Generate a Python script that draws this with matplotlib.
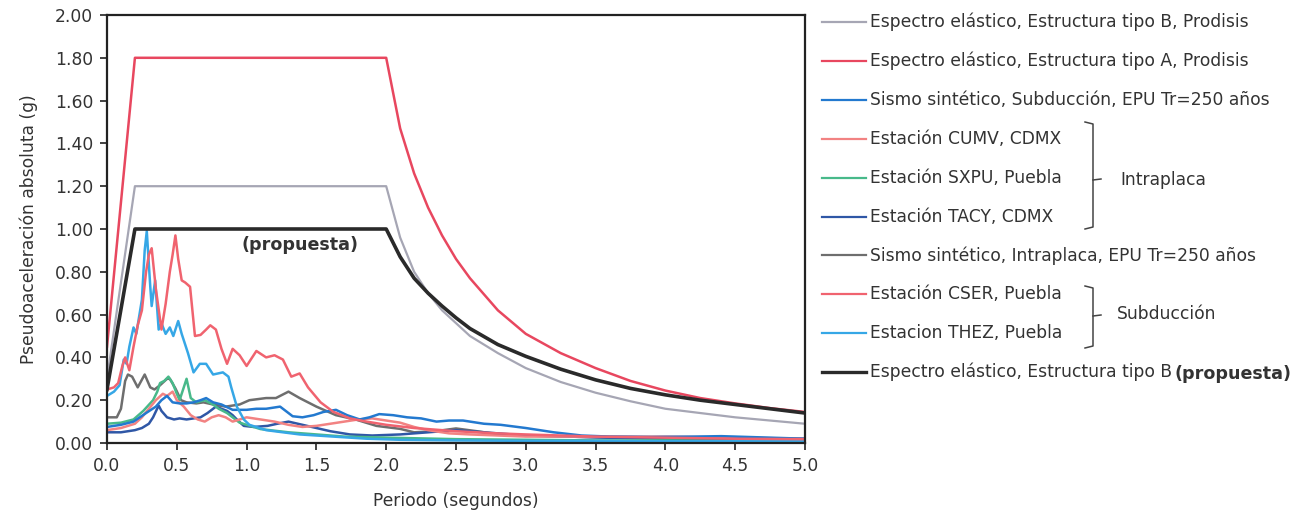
import matplotlib
matplotlib.use("Agg")
import matplotlib.pyplot as plt
from matplotlib.lines import Line2D

plt.rcParams['font.family'] = ['DejaVu Sans']

# ---------------- data ----------------
# Design spectra
T_specA = [0.0, 0.2, 2.0, 2.1, 2.2, 2.3, 2.4, 2.5, 2.6, 2.8, 3.0, 3.25, 3.5, 3.75, 4.0, 4.25, 4.5, 4.75, 5.0]
Sa_specA = [0.45, 1.80, 1.80, 1.47, 1.26, 1.10, 0.97, 0.86, 0.77, 0.62, 0.51, 0.42, 0.35, 0.29, 0.245, 0.21, 0.185, 0.163, 0.145]

T_specB = [0.0, 0.2, 2.0, 2.1, 2.2, 2.3, 2.4, 2.5, 2.6, 2.8, 3.0, 3.25, 3.5, 3.75, 4.0, 4.25, 4.5, 4.75, 5.0]
Sa_specB = [0.30, 1.20, 1.20, 0.96, 0.80, 0.70, 0.62, 0.56, 0.50, 0.42, 0.35, 0.285, 0.235, 0.195, 0.16, 0.14, 0.12, 0.105, 0.09]

T_prop = [0.0, 0.2, 2.0, 2.1, 2.2, 2.3, 2.4, 2.5, 2.6, 2.8, 3.0, 3.25, 3.5, 3.75, 4.0, 4.25, 4.5, 4.75, 5.0]
Sa_prop = [0.25, 1.00, 1.00, 0.87, 0.77, 0.70, 0.64, 0.585, 0.535, 0.46, 0.405, 0.345, 0.295, 0.255, 0.225, 0.20, 0.18, 0.16, 0.14]

# Records
T_synSub = [0, 0.1, 0.19, 0.28, 0.35, 0.39, 0.43, 0.47, 0.52, 0.57, 0.62, 0.67, 0.71, 0.76, 0.82, 0.9, 1.0, 1.07,
            1.14, 1.24, 1.33, 1.40, 1.48, 1.55, 1.64, 1.72, 1.81, 1.88, 1.95, 2.05, 2.15, 2.25, 2.36, 2.45, 2.55,
            2.7, 2.82, 3.0, 3.2, 3.4, 3.6, 3.9, 4.2, 4.4, 4.6, 4.8, 5.0]
Sa_synSub = [0.075, 0.085, 0.10, 0.14, 0.17, 0.20, 0.22, 0.19, 0.185, 0.185, 0.19, 0.20, 0.21, 0.19, 0.18, 0.155,
             0.155, 0.16, 0.16, 0.17, 0.125, 0.12, 0.13, 0.145, 0.155, 0.13, 0.11, 0.12, 0.135, 0.13, 0.12, 0.115,
             0.10, 0.105, 0.105, 0.09, 0.085, 0.07, 0.05, 0.035, 0.03, 0.028, 0.03, 0.032, 0.028, 0.024, 0.02]

T_cumv = [0, 0.1, 0.2, 0.25, 0.3, 0.35, 0.4, 0.43, 0.47, 0.5, 0.55, 0.6, 0.65, 0.7, 0.75, 0.8, 0.85, 0.9, 1.0,
          1.1, 1.2, 1.3, 1.4, 1.5, 1.6, 1.7, 1.8, 1.9, 2.0, 2.1, 2.2, 2.3, 2.45, 2.6, 2.8, 3.0, 3.5, 4.0, 4.5, 5.0]
Sa_cumv = [0.06, 0.07, 0.09, 0.12, 0.16, 0.20, 0.23, 0.22, 0.24, 0.20, 0.17, 0.13, 0.11, 0.10, 0.12, 0.13, 0.12,
           0.10, 0.12, 0.11, 0.10, 0.085, 0.075, 0.08, 0.09, 0.10, 0.11, 0.115, 0.105, 0.095, 0.075, 0.06, 0.045,
           0.04, 0.035, 0.03, 0.03, 0.03, 0.025, 0.02]

T_sxpu = [0, 0.1, 0.19, 0.26, 0.33, 0.36, 0.38, 0.41, 0.44, 0.47, 0.5, 0.52, 0.55, 0.57, 0.6, 0.64, 0.7, 0.76,
          0.8, 0.86, 0.95, 1.1, 1.3, 1.5, 1.7, 2.0, 2.5, 3.0, 3.5, 4.0, 4.5, 5.0]
Sa_sxpu = [0.09, 0.095, 0.11, 0.15, 0.20, 0.24, 0.28, 0.29, 0.31, 0.28, 0.23, 0.20, 0.26, 0.30, 0.21, 0.19, 0.20,
           0.18, 0.16, 0.14, 0.095, 0.065, 0.05, 0.04, 0.03, 0.025, 0.018, 0.015, 0.012, 0.012, 0.01, 0.01]

T_tacy = [0, 0.1, 0.2, 0.25, 0.3, 0.33, 0.37, 0.39, 0.43, 0.48, 0.52, 0.57, 0.62, 0.67, 0.72, 0.78, 0.82, 0.86,
          0.9, 0.93, 0.98, 1.05, 1.15, 1.22, 1.3, 1.4, 1.5, 1.6, 1.74, 1.9, 2.1, 2.3, 2.5, 2.7, 3.0, 3.3, 3.6, 4.0,
          4.5, 5.0]
Sa_tacy = [0.05, 0.05, 0.06, 0.07, 0.09, 0.12, 0.175, 0.15, 0.12, 0.11, 0.115, 0.11, 0.115, 0.12, 0.14, 0.17,
           0.16, 0.15, 0.13, 0.11, 0.08, 0.075, 0.08, 0.09, 0.10, 0.085, 0.07, 0.055, 0.04, 0.035, 0.04, 0.05,
           0.06, 0.05, 0.035, 0.03, 0.025, 0.022, 0.02, 0.02]

T_synIntra = [0, 0.07, 0.1, 0.13, 0.15, 0.18, 0.22, 0.27, 0.31, 0.34, 0.38, 0.43, 0.45, 0.49, 0.53, 0.57, 0.64,
              0.69, 0.76, 0.85, 0.95, 1.02, 1.14, 1.21, 1.3, 1.38, 1.5, 1.64, 1.78, 1.93, 2.1, 2.2, 2.35, 2.5,
              2.65, 2.81, 3.0, 3.3, 3.6, 4.0, 4.5, 5.0]
Sa_synIntra = [0.12, 0.12, 0.16, 0.29, 0.32, 0.31, 0.26, 0.32, 0.26, 0.25, 0.27, 0.30, 0.30, 0.255, 0.20, 0.19,
               0.185, 0.19, 0.18, 0.17, 0.18, 0.20, 0.21, 0.21, 0.24, 0.21, 0.17, 0.13, 0.11, 0.08, 0.066, 0.05,
               0.055, 0.068, 0.055, 0.04, 0.035, 0.03, 0.025, 0.02, 0.018, 0.015]

T_cser = [0, 0.05, 0.08, 0.11, 0.13, 0.16, 0.19, 0.22, 0.25, 0.28, 0.30, 0.32, 0.35, 0.39, 0.42, 0.45, 0.47,
          0.49, 0.51, 0.535, 0.56, 0.595, 0.63, 0.67, 0.71, 0.74, 0.78, 0.82, 0.86, 0.9, 0.95, 1.0, 1.07, 1.14,
          1.2, 1.26, 1.32, 1.38, 1.44, 1.53, 1.62, 1.74, 1.86, 2.0, 2.2, 2.5, 2.8, 3.0, 3.5, 4.0, 4.5, 5.0]
Sa_cser = [0.25, 0.26, 0.28, 0.36, 0.40, 0.34, 0.45, 0.55, 0.62, 0.80, 0.88, 0.91, 0.72, 0.53, 0.65, 0.80, 0.88,
           0.97, 0.86, 0.76, 0.75, 0.73, 0.50, 0.505, 0.53, 0.55, 0.53, 0.44, 0.37, 0.44, 0.41, 0.36, 0.43, 0.40,
           0.41, 0.39, 0.31, 0.325, 0.26, 0.19, 0.146, 0.115, 0.10, 0.085, 0.07, 0.055, 0.045, 0.04, 0.03, 0.025,
           0.02, 0.018]

T_thez = [0, 0.05, 0.09, 0.12, 0.14, 0.16, 0.19, 0.21, 0.25, 0.27, 0.285, 0.31, 0.32, 0.345, 0.37, 0.39, 0.42,
          0.45, 0.475, 0.51, 0.535, 0.58, 0.62, 0.665, 0.71, 0.76, 0.83, 0.87, 0.89, 0.93, 0.98, 1.02, 1.14, 1.38,
          1.62, 1.86, 2.1, 2.5, 3.0, 3.5, 4.0, 4.5, 5.0]
Sa_thez = [0.22, 0.24, 0.27, 0.39, 0.37, 0.45, 0.54, 0.51, 0.67, 0.90, 0.99, 0.73, 0.64, 0.76, 0.53, 0.56, 0.51,
           0.54, 0.50, 0.57, 0.51, 0.42, 0.33, 0.37, 0.37, 0.32, 0.33, 0.31, 0.26, 0.17, 0.11, 0.085, 0.06, 0.04,
           0.03, 0.02, 0.015, 0.012, 0.01, 0.01, 0.008, 0.008, 0.008]

x_ticks = [0.0, 0.5, 1.0, 1.5, 2.0, 2.5, 3.0, 3.5, 4.0, 4.5, 5.0]
y_ticks = [0.0, 0.2, 0.4, 0.6, 0.8, 1.0, 1.2, 1.4, 1.6, 1.8, 2.0]

labels = [
    "Espectro elástico, Estructura tipo B, Prodisis",
    "Espectro elástico, Estructura tipo A, Prodisis",
    "Sismo sintético, Subducción, EPU Tr=250 años",
    "Estación CUMV, CDMX",
    "Estación SXPU, Puebla",
    "Estación TACY, CDMX",
    "Sismo sintético, Intraplaca, EPU Tr=250 años",
    "Estación CSER, Puebla",
    "Estacion THEZ, Puebla",
    "Espectro elástico, Estructura tipo B",
]

# ---------------- figure ----------------
W, H = 1308, 518
fig = plt.figure(figsize=(W / 100, H / 100), dpi=100)
ax = fig.add_axes([107 / W, 1 - 443 / H, (805 - 107) / W, (443 - 15) / H])

c_B = '#a6a6b4'
c_A = '#e8475f'
c_synSub = '#2379cf'
c_cumv = '#f28282'
c_sxpu = '#48b98a'
c_tacy = '#2f57a6'
c_synIntra = '#6e6e6e'
c_cser = '#f0636f'
c_thez = '#36a7e6'
c_prop = '#2a2a2a'

lw = 1.8
# records first
l_synIntra, = ax.plot(T_synIntra, Sa_synIntra, color=c_synIntra, lw=lw)
l_tacy, = ax.plot(T_tacy, Sa_tacy, color=c_tacy, lw=lw)
l_sxpu, = ax.plot(T_sxpu, Sa_sxpu, color=c_sxpu, lw=lw)
l_cumv, = ax.plot(T_cumv, Sa_cumv, color=c_cumv, lw=lw)
l_synSub, = ax.plot(T_synSub, Sa_synSub, color=c_synSub, lw=lw)
l_thez, = ax.plot(T_thez, Sa_thez, color=c_thez, lw=lw)
l_cser, = ax.plot(T_cser, Sa_cser, color=c_cser, lw=lw)
# spectra
l_B, = ax.plot(T_specB, Sa_specB, color=c_B, lw=1.6)
l_A, = ax.plot(T_specA, Sa_specA, color=c_A, lw=1.8)
l_prop, = ax.plot(T_prop, Sa_prop, color=c_prop, lw=2.6)

ax.set_xlim(0, 5)
ax.set_ylim(0, 2)
ax.set_xticks(x_ticks)
ax.set_xticklabels([f"{v:.1f}" for v in x_ticks])
ax.set_yticks(y_ticks)
ax.set_yticklabels([f"{v:.2f}" for v in y_ticks])
ax.tick_params(direction='out', length=5, width=1.2, colors='#222222', labelsize=12.3,
               labelcolor='#333333', pad=5)
for s in ax.spines.values():
    s.set_color('#222222')
    s.set_linewidth(1.6)

ax.set_xlabel("Periodo (segundos)", fontsize=12.3, color='#333333', labelpad=12)
ax.set_ylabel("Pseudoaceleración absoluta (g)", fontsize=12.3, color='#333333', labelpad=12)

ax.text(1.38, 0.925, "(propuesta)", fontsize=12.6, fontweight='bold', color='#333333',
        ha='center', va='center')

# ---------------- legend (manual) ----------------
def fx(px):
    return px / W


def fy(py):
    return 1 - py / H


handles = [l_B, l_A, l_synSub, l_cumv, l_sxpu, l_tacy, l_synIntra, l_cser, l_thez, l_prop]
row0, dy = 22, 38.9
for i, (h, lab) in enumerate(zip(handles, labels)):
    y = row0 + i * dy
    lwh = 2.4 if h is l_prop else 1.6
    fig.add_artist(Line2D([fx(822), fx(866)], [fy(y), fy(y)], color=h.get_color(), lw=lwh,
                          transform=fig.transFigure))
    fig.text(fx(870), fy(y), lab, fontsize=12.3, color='#333333', ha='left', va='center')

# bold suffix on last row
fig.text(fx(1175), fy(row0 + 9 * dy + 2), "(propuesta)", fontsize=12.6, fontweight='bold',
         color='#333333', ha='left', va='center')


def bracket(y0, y1, ym):
    xs = [fx(1085), fx(1093), fx(1093), fx(1085)]
    ys = [fy(y0 - 2), fy(y0), fy(y1), fy(y1 + 2)]
    fig.add_artist(Line2D(xs, ys, color='#444444', lw=1.1, transform=fig.transFigure))
    fig.add_artist(Line2D([fx(1093), fx(1101)], [fy(ym), fy(ym - 1)], color='#444444', lw=1.1,
                          transform=fig.transFigure))


bracket(124, 227, 180)
fig.text(fx(1120), fy(180), "Intraplaca", fontsize=12.3, color='#333333', ha='left', va='center')
bracket(288, 346, 316)
fig.text(fx(1117), fy(314), "Subducción", fontsize=12.3, color='#333333', ha='left', va='center')

fig.savefig("out.png", dpi=100)
